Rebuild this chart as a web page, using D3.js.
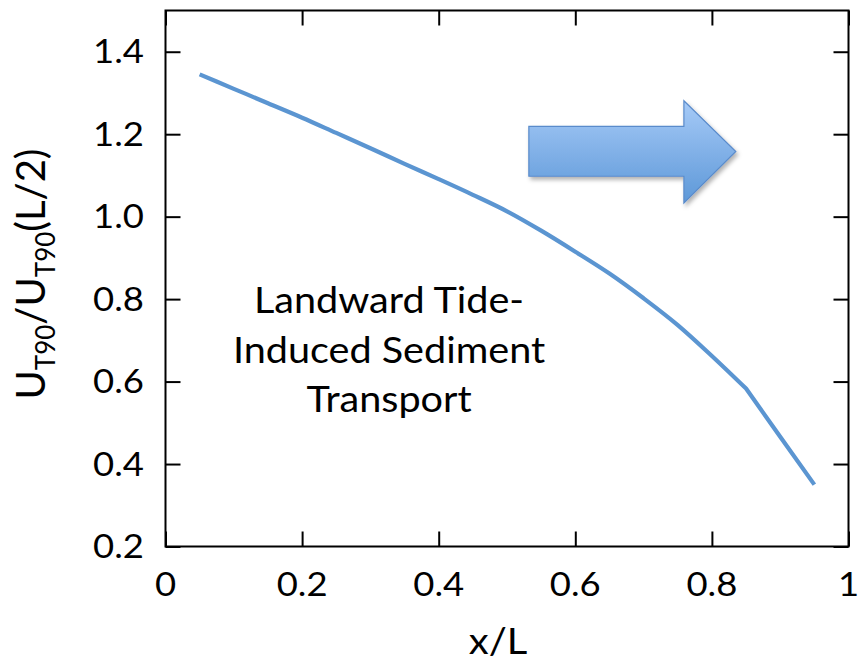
<!DOCTYPE html>
<html>
<head>
<meta charset="utf-8">
<script src="https://cdn.jsdelivr.net/npm/d3@7"></script>
<style>
  html, body { margin: 0; padding: 0; background: #fff; }
  svg { display: block; font-family: Lato, "Open Sans", sans-serif; }
</style>
</head>
<body>
<svg id="chart" width="859" height="663"></svg>
<script>
// ---- data ----
const xValues = [0.05, 0.10, 0.15, 0.20, 0.25, 0.30, 0.35, 0.40, 0.45, 0.50,
                 0.55, 0.60, 0.65, 0.70, 0.75, 0.80, 0.85, 0.90, 0.95];
const yValues = [1.345, 1.310, 1.275, 1.240, 1.203, 1.166, 1.128, 1.091, 1.053, 1.013,
                 0.966, 0.915, 0.862, 0.802, 0.737, 0.662, 0.583, 0.466, 0.350];
const kinkX = 0.85;
const xTicks = [0, 0.2, 0.4, 0.6, 0.8, 1];
const xTickLabels = ["0", "0.2", "0.4", "0.6", "0.8", "1"];
const yTicks = [0.2, 0.4, 0.6, 0.8, 1.0, 1.2, 1.4];
const yTickLabels = ["0.2", "0.4", "0.6", "0.8", "1.0", "1.2", "1.4"];
const annotationLines = ["Landward Tide-", "Induced Sediment", "Transport"];
// arrow outline in data units (x/L, ratio)
const arrowX = [0.532, 0.759, 0.759, 0.835, 0.759, 0.759, 0.532];
const arrowY = [1.219, 1.219, 1.281, 1.158, 1.033, 1.098, 1.098];

// ---- layout ----
const svg = d3.select("#chart");
const mLeft = 165.5, mRight = 848.5, mTop = 10.5, mBottom = 546.5;
const x = d3.scaleLinear().domain([0, 1]).range([mLeft, mRight]);
const y = d3.scaleLinear().domain([0.2, 1.5]).range([mBottom, mTop]);

const defs = svg.append("defs");
const grad = defs.append("linearGradient").attr("id", "arrowGrad")
  .attr("x1", 0).attr("y1", 0).attr("x2", 0).attr("y2", 1);
grad.append("stop").attr("offset", "0%").attr("stop-color", "#a6caf7");
grad.append("stop").attr("offset", "100%").attr("stop-color", "#5d98d8");
const filt = defs.append("filter").attr("id", "shadow")
  .attr("x", "-20%").attr("y", "-20%").attr("width", "140%").attr("height", "140%");
filt.append("feDropShadow").attr("dx", 2).attr("dy", 3).attr("stdDeviation", 2)
  .attr("flood-color", "#000").attr("flood-opacity", 0.3);

// axes (ticks inward, mirrored)
const tickLen = 15;
const xAxisB = d3.axisBottom(x).tickValues(xTicks).tickSize(-tickLen).tickFormat("");
const xAxisT = d3.axisTop(x).tickValues(xTicks).tickSize(-tickLen).tickFormat("");
const yAxisL = d3.axisLeft(y).tickValues(yTicks).tickSize(-tickLen).tickFormat("");
const yAxisR = d3.axisRight(y).tickValues(yTicks).tickSize(-tickLen).tickFormat("");

function style(g) {
  g.selectAll("path.domain").remove();
  g.selectAll("line").attr("stroke", "#000").attr("stroke-width", 2);
}
svg.append("g").attr("transform", `translate(0,${mBottom})`).call(xAxisB).call(style);
svg.append("g").attr("transform", `translate(0,${mTop})`).call(xAxisT).call(style);
svg.append("g").attr("transform", `translate(${mLeft},0)`).call(yAxisL).call(style);
svg.append("g").attr("transform", `translate(${mRight},0)`).call(yAxisR).call(style);

svg.append("rect").attr("x", mLeft).attr("y", mTop)
  .attr("width", mRight - mLeft).attr("height", mBottom - mTop)
  .attr("fill", "none").attr("stroke", "#000").attr("stroke-width", 2);

// tick labels (slightly widened glyphs to mimic the reference face)
const sxTick = 1.14;
svg.append("g").selectAll("text").data(xTicks).join("text")
  .attr("transform", d => `translate(${x(d)},596) scale(${sxTick},1)`)
  .attr("text-anchor", "middle").attr("font-size", 32).attr("fill", "#000")
  .text((d, i) => xTickLabels[i]);
svg.append("g").selectAll("text").data(yTicks).join("text")
  .attr("transform", d => `translate(144,${y(d)}) scale(${sxTick},1)`)
  .attr("dy", "0.36em")
  .attr("text-anchor", "end").attr("font-size", 32).attr("fill", "#000")
  .text((d, i) => yTickLabels[i]);

// axis titles
svg.append("text").attr("transform", "translate(498,654) scale(1.08,1)")
  .attr("text-anchor", "middle").attr("font-size", 37).text("x/L");

const yt = svg.append("text")
  .attr("transform", "translate(45,274) rotate(-90)")
  .attr("text-anchor", "middle").attr("font-size", 40);
yt.append("tspan").text("U");
yt.append("tspan").attr("font-size", 26).attr("dy", 10).text("T90");
yt.append("tspan").attr("dy", -10).text("/U");
yt.append("tspan").attr("font-size", 26).attr("dy", 10).text("T90");
yt.append("tspan").attr("dy", -10).text("(L/2)");

// line: smooth up to the kink, straight after it
const pts = xValues.map((d, i) => [d, yValues[i]]);
const seg1 = pts.filter(p => p[0] <= kinkX + 1e-9);
const seg2 = pts.filter(p => p[0] >= kinkX - 1e-9);
const lineSmooth = d3.line().x(d => x(d[0])).y(d => y(d[1])).curve(d3.curveMonotoneX);
const lineStraight = d3.line().x(d => x(d[0])).y(d => y(d[1]));
svg.append("path")
  .attr("fill", "none").attr("stroke", "#5b95d1").attr("stroke-width", 4.2)
  .attr("stroke-linejoin", "round")
  .attr("d", lineSmooth(seg1) + lineStraight(seg2).replace(/^M/, "L"));

// arrow
const arrowPts = arrowX.map((d, i) => [x(d), y(arrowY[i])]);
svg.append("polygon")
  .attr("points", arrowPts.map(p => p.join(",")).join(" "))
  .attr("fill", "url(#arrowGrad)").attr("stroke", "#5a8bcb").attr("stroke-width", 1.2)
  .attr("filter", "url(#shadow)");

// annotation
svg.append("g").selectAll("text").data(annotationLines).join("text")
  .attr("transform", (d, i) => `translate(389,${313 + i * 49.5}) scale(1.1,1)`)
  .attr("text-anchor", "middle").attr("font-size", 36).attr("fill", "#000")
  .text(d => d);
</script>
</body>
</html>
